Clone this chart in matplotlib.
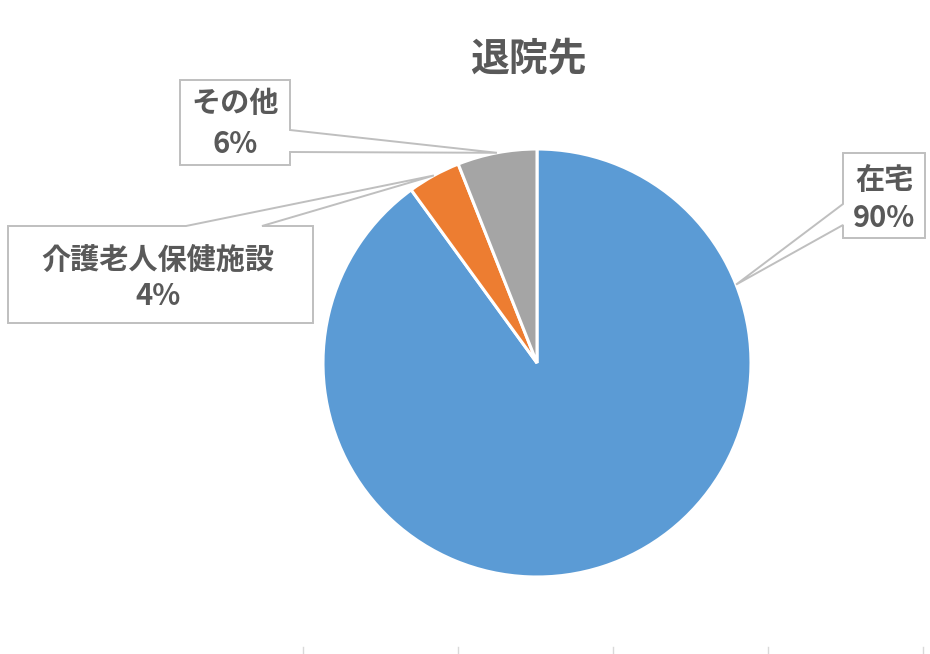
import numpy as np
import matplotlib
matplotlib.use("Agg")
import matplotlib.pyplot as plt
from matplotlib.patches import Polygon

plt.rcParams['font.family'] = ['Noto Sans CJK JP', 'DejaVu Sans']

title = "退院先"
categories = ["在宅", "介護老人保健施設", "その他"]
values = [90, 4, 6]
pct_labels = ["90%", "4%", "6%"]
colors = ["#5B9BD5", "#ED7D31", "#A5A5A5"]

W, H = 930, 654
fig = plt.figure(figsize=(W / 100, H / 100), dpi=100)
ax = fig.add_axes([0, 0, 1, 1])
ax.set_xlim(0, W)
ax.set_ylim(0, H)
ax.set_aspect('equal')
ax.axis('off')

cx, cy, R = 537, H - 363, 214
wedges, _ = ax.pie(values, colors=colors, startangle=90, counterclock=False,
                   center=(cx, cy), radius=R, frame=True,
                   wedgeprops=dict(edgecolor='white', linewidth=2.2))
ax.set_xlim(0, W)
ax.set_ylim(0, H)
ax.axis('off')

txt_color = "#595959"
edge_color = "#BFBFBF"

def P(x, y):
    return (x, H - y)

def callout(box, side, b0, b1, tip):
    x0, y0, x1, y1 = box
    pts = [P(x0, y0)]
    if side == 'top':
        pts += [P(b0, y0), tip, P(b1, y0)]
    pts.append(P(x1, y0))
    if side == 'right':
        pts += [P(x1, b0), tip, P(x1, b1)]
    pts.append(P(x1, y1))
    pts.append(P(x0, y1))
    if side == 'left':
        pts += [P(x0, b1), tip, P(x0, b0)]
    poly = Polygon(pts, closed=True, facecolor='white', edgecolor=edge_color,
                   linewidth=1.4, zorder=5)
    ax.add_patch(poly)

def tip_of(w, ang=None):
    if ang is None:
        ang = (w.theta1 + w.theta2) / 2
    a = np.deg2rad(ang)
    return (cx + R * np.cos(a), cy + R * np.sin(a))

# layout: (box, side, base0, base1, anchor angle override, text centers)
layout = [
    ((843, 153, 925, 238), 'left', 204, 225, 21.5, (884, 180), (884, 218)),
    ((8, 226, 313, 323), 'top', 186, 262, None, (158, 260), (158, 296)),
    ((180, 80, 290, 165), 'right', 130, 152, None, (235, 103), (235, 144)),
]

for i, (box, side, b0, b1, ang, t1, t2) in enumerate(layout):
    tip = tip_of(wedges[i], ang)
    callout(box, side, b0, b1, tip)
    ax.text(*P(*t1), categories[i], ha='center', va='center', fontsize=21,
            fontweight='bold', color=txt_color, zorder=6)
    ax.text(*P(*t2), pct_labels[i], ha='center', va='center', fontsize=21,
            fontweight='bold', color=txt_color, zorder=6)

ax.text(*P(528, 60), title, ha='center', va='center', fontsize=28,
        fontweight='bold', color=txt_color)

for x in [303, 458, 613, 768, 923]:
    ax.plot([x, x], [0, 7], color="#D9D9D9", linewidth=1)

fig.savefig("out.png", dpi=100)
